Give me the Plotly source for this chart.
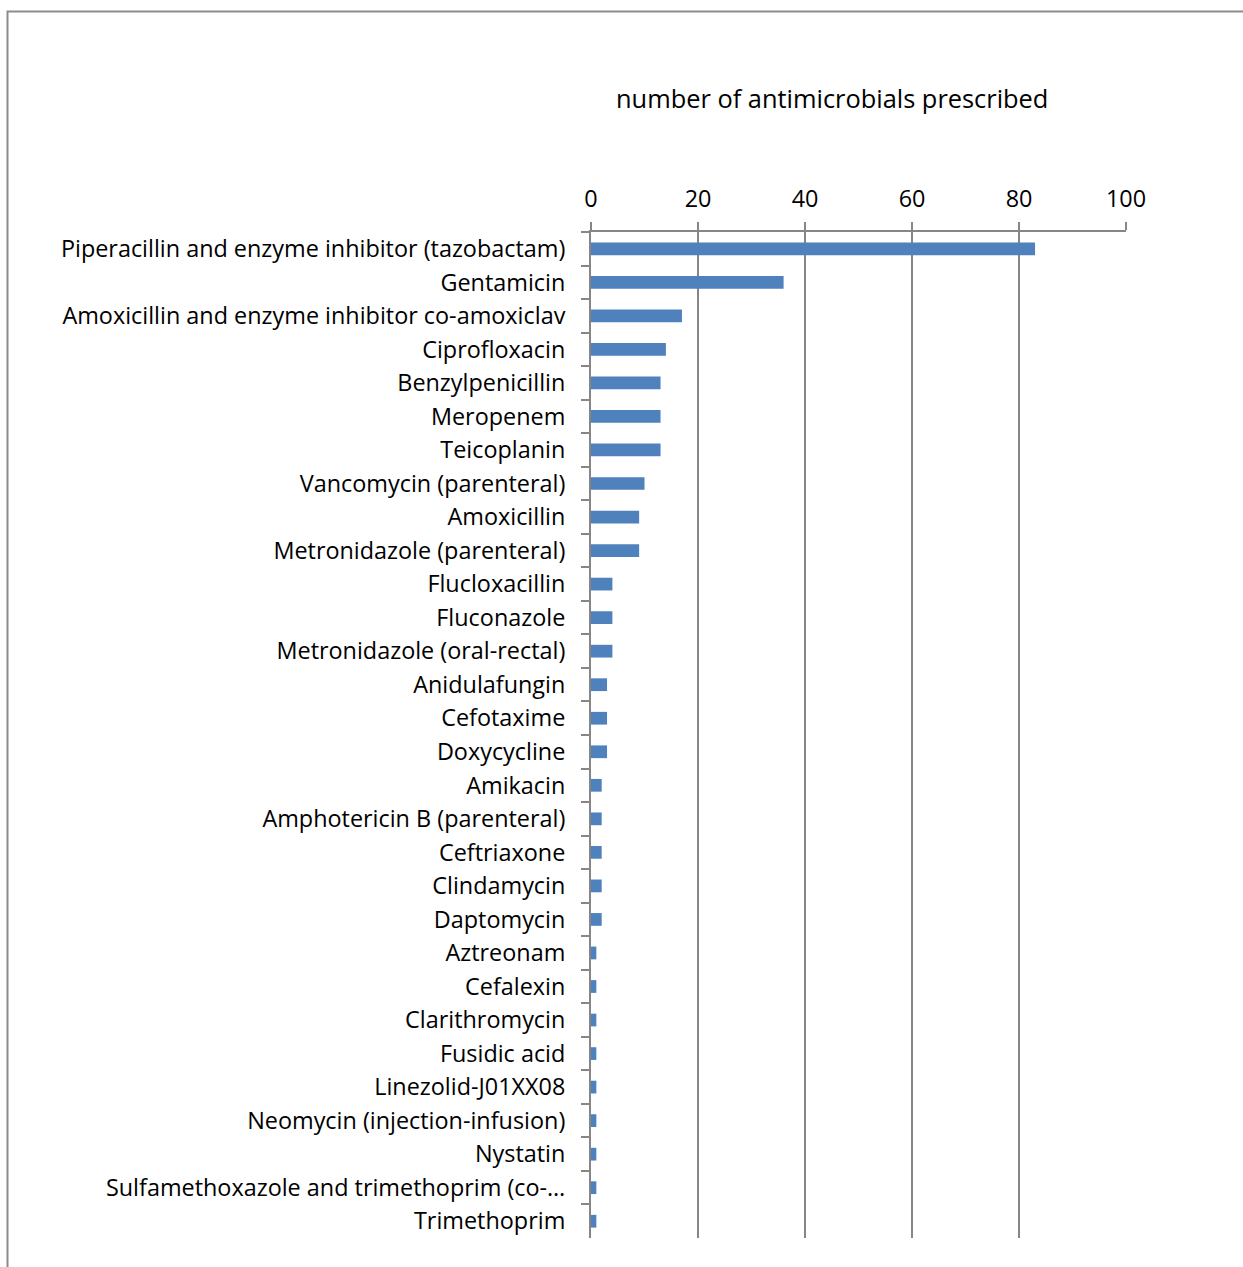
import plotly.graph_objects as go

drugs = [
    "Piperacillin and enzyme inhibitor (tazobactam)",
    "Gentamicin",
    "Amoxicillin and enzyme inhibitor co-amoxiclav",
    "Ciprofloxacin",
    "Benzylpenicillin",
    "Meropenem",
    "Teicoplanin",
    "Vancomycin (parenteral)",
    "Amoxicillin",
    "Metronidazole (parenteral)",
    "Flucloxacillin",
    "Fluconazole",
    "Metronidazole (oral-rectal)",
    "Anidulafungin",
    "Cefotaxime",
    "Doxycycline",
    "Amikacin",
    "Amphotericin B (parenteral)",
    "Ceftriaxone",
    "Clindamycin",
    "Daptomycin",
    "Aztreonam",
    "Cefalexin",
    "Clarithromycin",
    "Fusidic acid",
    "Linezolid-J01XX08",
    "Neomycin (injection-infusion)",
    "Nystatin",
    "Sulfamethoxazole and trimethoprim (co-…",
    "Trimethoprim",
]
prescribed = [83, 36, 17, 14, 13, 13, 13, 10, 9, 9, 4, 4, 4, 3, 3, 3,
              2, 2, 2, 2, 2, 1, 1, 1, 1, 1, 1, 1, 1, 1]

x_ticks = [0, 20, 40, 60, 80, 100]
chart_title = "number of antimicrobials prescribed"

W, H = 1243, 1267
L, R, T, B = 591, 1126, 232, 1238
FONT = "Open Sans, Carlito, Calibri, sans-serif"
TICK_SIZE = 23.4
GRID = "#868686"

fig = go.Figure(
    go.Bar(
        x=prescribed,
        y=drugs,
        orientation="h",
        marker=dict(color="#4F81BD", line=dict(width=0)),
        width=0.38,
    )
)

fig.update_layout(
    width=W,
    height=H,
    margin=dict(l=L, r=W - R, t=T, b=H - B, pad=0),
    paper_bgcolor="white",
    plot_bgcolor="white",
    showlegend=False,
    font=dict(family=FONT, size=TICK_SIZE, color="#000000"),
    xaxis=dict(
        side="top",
        range=[0, 100],
        tickvals=x_ticks,
        ticktext=[str(v) for v in x_ticks],
        showgrid=True,
        gridcolor=GRID,
        gridwidth=2,
        showline=True,
        linecolor=GRID,
        linewidth=2,
        ticks="outside",
        ticklen=8,
        tickwidth=2,
        tickcolor=GRID,
        ticklabelstandoff=6,
        zeroline=False,
        tickfont=dict(family=FONT, size=TICK_SIZE, color="#000000"),
        fixedrange=True,
    ),
    yaxis=dict(
        categoryorder="array",
        categoryarray=drugs,
        autorange="reversed",
        showline=True,
        linecolor=GRID,
        linewidth=2,
        ticks="outside",
        tickson="boundaries",
        ticklen=8,
        tickwidth=2,
        tickcolor=GRID,
        ticklabelstandoff=19,
        showgrid=False,
        tickfont=dict(family=FONT, size=TICK_SIZE, color="#000000"),
        fixedrange=True,
    ),
    shapes=[
        # outer chart frame (extends past the bottom and right of the page)
        dict(
            type="rect",
            xref="paper",
            yref="paper",
            x0=(7.5 - L) / (R - L),
            x1=(W + 20 - L) / (R - L),
            y0=(B - (H + 20)) / (B - T),
            y1=(B - 11.5) / (B - T),
            line=dict(color="#8C8C8C", width=2),
            fillcolor="rgba(0,0,0,0)",
            layer="below",
        )
    ],
    annotations=[
        dict(
            text=chart_title,
            xref="paper",
            yref="paper",
            x=(832 - L) / (R - L),
            y=(B - 98) / (B - T),
            xanchor="center",
            yanchor="middle",
            showarrow=False,
            font=dict(family=FONT, size=25.4, color="#000000"),
        )
    ],
)

fig.write_html("out.html")
